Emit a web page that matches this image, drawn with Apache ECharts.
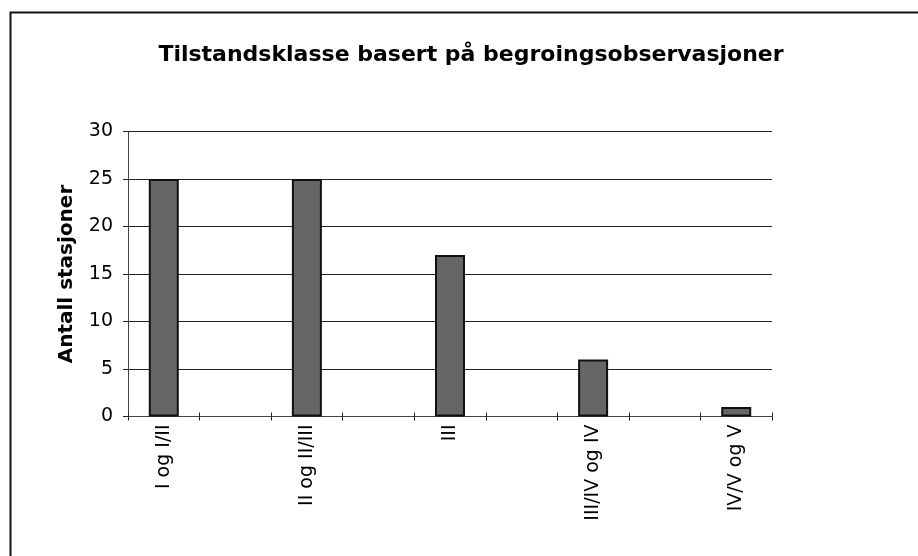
<!DOCTYPE html>
<html>
<head>
<meta charset="utf-8">
<script src="https://cdn.jsdelivr.net/npm/echarts@6/dist/echarts.min.js"></script>
<style>html,body{margin:0;padding:0;background:#fff;}#c{width:918px;height:556px;}</style>
</head>
<body>
<div id="c"></div>
<script>
// Categories (blank slots between the labelled classes, as in the original chart)
const categories = ['I og I/II', '', 'II og II/III', '', 'III', '', 'III/IV og IV', '', 'IV/V og V'];
const values = [25, null, 25, null, 17, null, 6, null, 1];
const yTicks = { min: 0, max: 30, interval: 5 };
const titleText = 'Tilstandsklasse basert på begroingsobservasjoner';
const yName = 'Antall stasjoner';

const chart = echarts.init(document.getElementById('c'), null, { renderer: 'canvas' });
const F = 'DejaVu Sans, Verdana, sans-serif';
chart.setOption({
  animation: false,
  backgroundColor: '#fff',
  graphic: [{
    type: 'rect', silent: true, z: -1,
    shape: { x: 10.5, y: 12.5, width: 1000, height: 1000 },
    style: { fill: 'none', stroke: '#111', lineWidth: 2 }
  }],
  title: {
    text: titleText, left: 466, top: 39, textAlign: 'center',
    textStyle: { fontFamily: F, fontSize: 22, fontWeight: 'bold', color: '#000' }
  },
  grid: { left: 128, right: 146, top: 131.5, bottom: 139.5, containLabel: false },
  xAxis: [{
    type: 'category', data: categories,
    axisLine: { show: true, lineStyle: { color: '#444', width: 1 } },
    axisTick: { show: true, alignWithLabel: false, interval: 0, length: 4, lineStyle: { color: '#222' } },
    axisLabel: { interval: 0, rotate: 90, margin: 8, fontFamily: F, fontSize: 19, color: '#000' },
    splitLine: { show: false }
  }, {
    type: 'category', data: categories, position: 'bottom', offset: 0,
    axisLine: { show: false },
    axisTick: { show: true, inside: true, interval: 0, length: 4, lineStyle: { color: '#222' } },
    axisLabel: { show: false }
  }],
  yAxis: {
    type: 'value', min: yTicks.min, max: yTicks.max, interval: yTicks.interval,
    name: yName, nameLocation: 'middle', nameGap: 51, nameRotate: 90,
    nameTextStyle: { fontFamily: F, fontSize: 20, fontWeight: 'bold', color: '#000' },
    axisLine: { show: true, lineStyle: { color: '#444', width: 1 } },
    axisTick: { show: true, length: 5, lineStyle: { color: '#222' } },
    axisLabel: { margin: 15, fontFamily: F, fontSize: 19, color: '#000' },
    splitLine: { show: true, lineStyle: { color: '#222', width: 1 } }
  },
  series: [{
    type: 'bar', data: values, barWidth: 30, xAxisIndex: 0,
    itemStyle: { color: '#666', borderColor: '#111', borderWidth: 2 }
  }]
});
</script>
</body>
</html>
